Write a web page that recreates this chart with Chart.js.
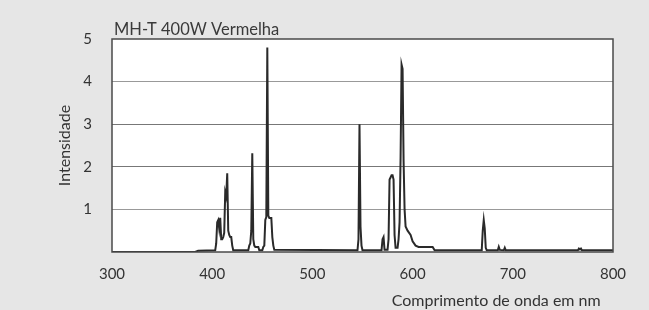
<!DOCTYPE html>
<html>
<head>
<meta charset="utf-8">
<script src="https://cdn.jsdelivr.net/npm/chart.js@4/dist/chart.umd.min.js"></script>
<style>
  html, body { margin: 0; padding: 0; background: #e6e6e6; }
  #wrap { width: 649px; height: 310px; }
</style>
</head>
<body>
<div id="wrap"><canvas id="spectrum" width="649" height="310"></canvas></div>
<script>
// MH-T 400W Vermelha - spectral distribution
const chartTitle = "MH-T 400W Vermelha";
const xTitle = "Comprimento de onda em nm";
const yTitle = "Intensidade";

const xTicks = [300, 400, 500, 600, 700, 800];
const yTicks = [0, 1, 2, 3, 4, 5];

const wavelengths = [
  300, 383, 386, 403, 404, 405, 406, 407, 408, 409, 410, 411, 412, 413, 414, 415, 416, 417, 418, 419, 420, 421,
  436, 437, 438, 439, 440, 441, 442, 443, 446, 447,
  450, 451, 452, 453, 454, 455, 456, 457, 459, 460, 461, 462,
  545, 546, 547, 548, 549, 550,
  569, 570, 571, 572, 575, 576, 577, 578, 579, 580, 581, 582, 583, 585,
  586, 587, 588, 589, 590, 591, 592, 593, 595, 598, 600, 603, 606, 620, 622,
  669, 670, 671, 672, 673, 674,
  685, 686, 687, 691, 692, 693,
  765, 766, 767, 768, 769, 800
];
const intensity = [
  0, 0, 0.03, 0.04, 0.2, 0.7, 0.75, 0.55, 0.8, 0.3, 0.3, 0.35, 0.45, 1.4, 1.3, 1.85, 0.5, 0.4, 0.35, 0.35, 0.15, 0.04,
  0.04, 0.15, 0.2, 0.5, 2.32, 0.3, 0.15, 0.12, 0.12, 0.04,
  0.04, 0.12, 0.15, 0.75, 0.82, 4.8, 0.85, 0.8, 0.8, 0.35, 0.15, 0.05,
  0.04, 0.3, 3.0, 0.6, 0.15, 0.04,
  0.04, 0.3, 0.35, 0.05, 0.05, 0.3, 1.7, 1.75, 1.8, 1.8, 1.7, 0.4, 0.1, 0.1,
  0.3, 0.7, 2.2, 4.4, 4.3, 2.15, 1.0, 0.6, 0.5, 0.4, 0.25, 0.15, 0.12, 0.12, 0.04,
  0.04, 0.5, 0.75, 0.55, 0.1, 0.04,
  0.04, 0.12, 0.05, 0.04, 0.1, 0.04,
  0.04, 0.08, 0.06, 0.08, 0.04, 0.04
];

const points = wavelengths.map((w, i) => ({ x: w, y: intensity[i] }));

// white plot area, dark frame and the title sitting on top of the frame
const framePlugin = {
  id: 'frame',
  beforeDraw(chart) {
    const a = chart.chartArea, ctx = chart.ctx;
    ctx.save();
    ctx.fillStyle = '#ffffff';
    ctx.fillRect(a.left, a.top, a.right - a.left, a.bottom - a.top);
    ctx.restore();
  },
  afterDraw(chart) {
    const a = chart.chartArea, ctx = chart.ctx;
    ctx.save();
    ctx.strokeStyle = '#4a4a4a';
    ctx.lineWidth = 1.5;
    ctx.strokeRect(a.left, a.top, a.right - a.left, a.bottom - a.top);
    ctx.fillStyle = '#3a3a3a';
    ctx.font = '16.5px Lato';
    ctx.textAlign = 'left';
    ctx.textBaseline = 'alphabetic';
    ctx.fillText(chartTitle, a.left + 2, a.top - 4);
    ctx.restore();
  }
};

new Chart(document.getElementById('spectrum'), {
  type: 'line',
  data: {
    datasets: [{
      data: points,
      borderColor: '#2a2a2a',
      borderWidth: 2,
      pointRadius: 0,
      tension: 0,
      fill: false
    }]
  },
  options: {
    responsive: false,
    animation: false,
    layout: { padding: { left: 0, top: 39, right: 36, bottom: 0 } },
    plugins: { legend: { display: false }, tooltip: { enabled: false } },
    scales: {
      x: {
        type: 'linear',
        min: xTicks[0],
        max: xTicks[xTicks.length - 1],
        afterFit: s => { s.height = 58; },
        afterBuildTicks: s => { s.ticks = xTicks.map(v => ({ value: v })); },
        grid: { display: false, drawTicks: false },
        border: { display: false },
        ticks: { padding: 13, color: '#333', font: { family: 'Lato', size: 15 } },
        title: {
          display: true, text: xTitle + '   ', align: 'end',
          color: '#333', font: { family: 'Lato', size: 16 }, padding: { top: 0, bottom: 0 }
        }
      },
      y: {
        min: yTicks[0],
        max: yTicks[yTicks.length - 1],
        afterFit: s => { s.width = 112; },
        afterBuildTicks: s => { s.ticks = yTicks.map(v => ({ value: v })); },
        grid: {
          drawTicks: false,
          color: c => (c.tick.value === 2 || c.tick.value === 3) ? '#777' : (c.tick.value === 0 || c.tick.value === 5 ? 'rgba(0,0,0,0)' : '#999'),
          lineWidth: 1
        },
        border: { display: false },
        ticks: {
          padding: 20, color: '#333', font: { family: 'Lato', size: 15 },
          callback: v => v === 0 ? '' : String(v)
        },
        title: {
          display: true, text: yTitle,
          color: '#333', font: { family: 'Lato', size: 16 }, padding: { top: 55, bottom: 0 }
        }
      }
    }
  },
  plugins: [framePlugin]
});
</script>
</body>
</html>
